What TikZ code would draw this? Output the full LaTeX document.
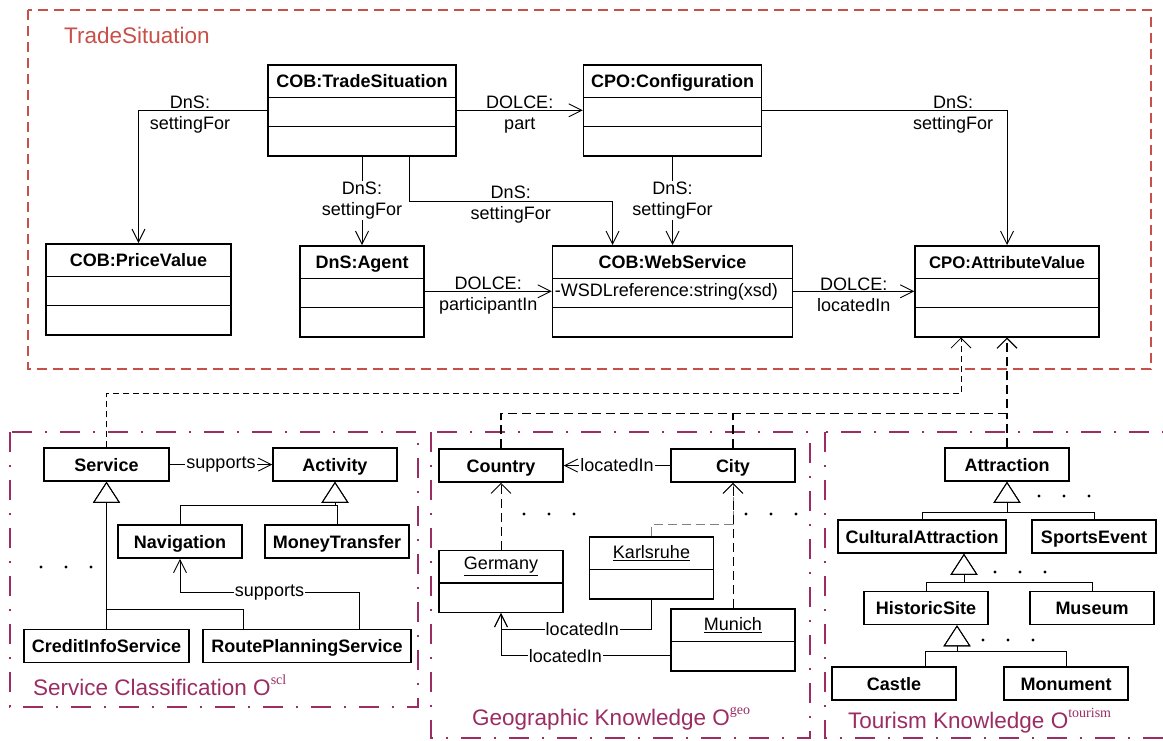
\documentclass[tikz,border=0pt]{standalone}
\usepackage{fontspec}
\setmainfont{Liberation Sans}
\newfontfamily\supfont{Liberation Serif}
\usetikzlibrary{arrows.meta,calc}

\definecolor{tradered}{RGB}{200,80,72}
\definecolor{ontopurple}{RGB}{155,45,100}

\tikzset{
  x=1pt, y=-1pt,
  classbox/.style={draw, line width=1.5pt, inner sep=0pt, fill=white},
  rowline/.style={line width=1.5pt},
  titletext/.style={font=\fontsize{18}{21}\selectfont\bfseries, inner sep=0pt, text height=13pt, text depth=0pt},
  objtext/.style={font=\fontsize{18}{21}\selectfont, inner sep=0pt},
  simplebox/.style={draw, fill=white, line width=1.5pt, minimum height=33pt, inner sep=0pt,
    text height=13pt, text depth=0pt, font=\fontsize{18}{21}\selectfont\bfseries},
  conn/.style={line width=0.9pt},
  assoc/.style={conn, -{Straight Barb[length=13pt,width=13pt]}},
  realize/.style={conn, dash pattern=on 9pt off 5pt, -{Straight Barb[length=10pt,width=20pt]}},
  gen/.style={conn, -{Triangle[open, length=21pt, width=27pt]}},
  lbl/.style={font=\fontsize{18}{21}\selectfont, inner sep=1pt},
  lbltwo/.style={lbl, align=center, yshift=-4pt},
  servlink/.style={line width=0.8pt, dash pattern=on 6pt off 4pt},
  geolink/.style={line width=1.1pt, dash pattern=on 9pt off 5pt},
  tradeframe/.style={tradered, line width=2.5pt, dash pattern=on 10pt off 6pt},
  ontoframe/.style={ontopurple, line width=2.8pt, dash pattern=on 20pt off 13pt on 2pt off 13pt},
  grouplabel/.style={font=\fontsize{22.5}{26}\selectfont, inner sep=0pt, anchor=base west},
  dot/.style={fill=black}
}

% UML class with name, attribute and operation compartments
% #1 node name, #2 centre x, #3 top y, #4 width, #5 title
\newcommand{\umlclass}[5]{%
  \node[classbox, minimum width=#4pt, minimum height=91pt, anchor=north] (#1) at (#2,#3) {};
  \node[titletext] (#1-title) at ($(#1.north)+(0,17)$) {#5};
  \draw[rowline] ($(#1.north west)+(0,33.5)$) -- ($(#1.north east)+(0,33.5)$);
  \draw[rowline] ($(#1.north west)+(0,62.5)$) -- ($(#1.north east)+(0,62.5)$);
}
% UML instance: underlined name and one empty slot compartment
% #1 node name, #2 centre x, #3 top y, #4 name
\newcommand{\umlobject}[4]{%
  \node[classbox, minimum width=124pt, minimum height=62pt, anchor=north] (#1) at (#2,#3) {};
  \node[objtext] (#1-title) at ($(#1.north)+(0,17)$) {\underline{#4}};
  \draw[rowline] ($(#1.north west)+(0,33.5)$) -- ($(#1.north east)+(0,33.5)$);
}

\begin{document}
\begin{tikzpicture}
\clip (0,0) rectangle (1163,740);
\fill[white] (0,0) rectangle (1163,740);

% ---------- frames of the four modules ----------
\draw[tradeframe] (28,10) rectangle (1151,369);
\draw[ontoframe] (10,432) rectangle (418,707);
\draw[ontoframe] (431,432) rectangle (810,738);
\draw[ontoframe] (825,432) rectangle (1185,738);

\node[grouplabel, text=tradered] (tradelabel) at (64,43) {TradeSituation};
\node[grouplabel, text=ontopurple] (scllabel) at (33,695)
  {Service Classification O\raisebox{10.5pt}{\fontsize{14}{14}\supfont scl}};
\node[grouplabel, text=ontopurple] (geolabel) at (472,725)
  {Geographic Knowledge O\raisebox{10.5pt}{\fontsize{14}{14}\supfont geo}};
\node[grouplabel, text=ontopurple] (tourlabel) at (848,728)
  {Tourism Knowledge O\raisebox{10.5pt}{\fontsize{14}{14}\supfont tourism}};

% ---------- trade situation classes ----------
\umlclass{ts}{362}{64}{188}{COB:TradeSituation}
\umlclass{conf}{672.5}{64}{178}{CPO:Configuration}
\umlclass{pv}{138.5}{243}{185}{COB:PriceValue}
\umlclass{agent}{362}{245}{124}{DnS:Agent}
\umlclass{ws}{672.5}{245}{240}{COB:WebService}
\umlclass{av}{1007}{245}{184}{\fontsize{16.8}{20}\selectfont CPO:AttributeValue}
\node[objtext, anchor=west] (ws-attr) at ($(ws.north west)+(3,47)$) {-WSDLreference:string(xsd)};

\draw[assoc] (ts.west) -| node[lbltwo, pos=0.3] {DnS:\\settingFor} (pv.north);
\draw[assoc] (ts.east) -- node[lbltwo] {DOLCE:\\part} (conf.west);
\draw[assoc] (conf.east) -| node[lbltwo, pos=0.39] {DnS:\\settingFor} (av.north);
\draw[assoc] (ts.south) -- node[lbl, align=center, fill=white] {DnS:\\settingFor} (agent.north);
\draw[assoc] ([xshift=47pt]ts.south) |- node[lbltwo, pos=0.75] {DnS:\\settingFor}
  ($(ws.north)+(-60,-44)$) -- ([xshift=-60pt]ws.north);
\draw[assoc] (conf.south) -- node[lbl, align=center, fill=white] {DnS:\\settingFor} (ws.north);
\draw[assoc] (agent.east) -- node[lbltwo] {DOLCE:\\participantIn} (ws.west);
\draw[assoc] (ws.east) -- node[lbltwo] {DOLCE:\\locatedIn} (av.west);

% ---------- service classification ----------
\node[simplebox, minimum width=125pt] (service) at (106.5,464.5) {Service};
\node[simplebox, minimum width=124pt] (activity) at (335,464.5) {Activity};
\node[simplebox, minimum width=124pt] (nav) at (180,541.5) {Navigation};
\node[simplebox, minimum width=144pt] (money) at (337,541.5) {MoneyTransfer};
\node[simplebox, minimum width=165pt] (credit) at (106.5,646) {CreditInfoService};
\node[simplebox, minimum width=208pt] (route) at (307,646) {RoutePlanningService};

\draw[gen] (credit.north) -- (service.south);
\draw[gen] ([xshift=-64pt]route.north) |- ($(service.south)+(0,128)$) -- (service.south);
\draw[gen] (nav.north) |- ($(activity.south)+(0,24)$) -- (activity.south);
\draw[gen] (money.north) |- ($(activity.south)+(0,24)$) -- (activity.south);
\draw[assoc] (service.east) -- node[lbl, fill=white] {supports} (activity.west);
\draw[assoc] ([xshift=52pt]route.north) |- node[lbl, fill=white, pos=0.75] {supports}
  ($(nav.south)+(0,34)$) -- (nav.south);

\foreach \x in {41,66,91} \fill[dot] (\x,567) circle (1.6pt);

% ---------- geographic knowledge ----------
\node[simplebox, minimum width=124pt] (country) at (501,465.5) {Country};
\node[simplebox, minimum width=124pt] (city) at (733,465.5) {City};
\umlobject{germany}{501}{549.5}{Germany}
\umlobject{karlsruhe}{651.5}{536}{Karlsruhe}
\umlobject{munich}{733}{608}{Munich}

\draw[assoc] (city.west) -- node[lbl, fill=white] {locatedIn} (country.east);
\draw[realize] (germany.north) -- (country.south);
\draw[realize, gray] (karlsruhe.north) |- ($(city.south)+(0,42)$) -- (city.south);
\draw[realize] (munich.north) -- (city.south);
\draw[assoc] (karlsruhe.south) |- node[lbl, fill=white, pos=0.73] {locatedIn}
  ($(germany.south)+(0,16)$) -- (germany.south);
\draw[assoc] ([yshift=-16pt]munich.west) -| node[lbl, fill=white, pos=0.31] {locatedIn} (germany.south);

\foreach \x in {524,549,574,746,771,796} \fill[dot] (\x,514) circle (1.6pt);

% ---------- tourism knowledge ----------
\node[simplebox, minimum width=124pt] (attraction) at (1007,464.5) {Attraction};
\node[simplebox, minimum width=168pt] (cultural) at (922,536.5) {CulturalAttraction};
\node[simplebox, minimum width=124pt] (sports) at (1094,536.5) {SportsEvent};
\node[simplebox, minimum width=124pt] (historic) at (926,608) {HistoricSite};
\node[simplebox, minimum width=124pt] (museum) at (1092,608) {Museum};
\node[simplebox, minimum width=124pt] (castle) at (894,683.5) {Castle};
\node[simplebox, minimum width=124pt] (monument) at (1066,683.5) {Monument};

\draw[gen] (cultural.north) |- ($(attraction.south)+(0,31)$) -- (attraction.south);
\draw[gen] (sports.north) |- ($(attraction.south)+(0,31)$) -- (attraction.south);
\draw[gen] (historic.north) |- ($([xshift=42pt]cultural.south)+(0,29)$) -- ([xshift=42pt]cultural.south);
\draw[gen] (museum.north) |- ($([xshift=42pt]cultural.south)+(0,29)$) -- ([xshift=42pt]cultural.south);
\draw[gen] ([xshift=31pt]castle.north) |- ($([xshift=31pt]historic.south)+(0,26)$) -- ([xshift=31pt]historic.south);
\draw[gen] (monument.north) |- ($([xshift=31pt]historic.south)+(0,26)$) -- ([xshift=31pt]historic.south);

\foreach \x in {1039,1064,1089} \fill[dot] (\x,496) circle (1.6pt);
\foreach \x in {995,1020,1045} \fill[dot] (\x,572) circle (1.6pt);
\foreach \x in {983,1008,1033} \fill[dot] (\x,640) circle (1.6pt);

% ---------- links from the domain ontologies to attribute values ----------
\draw[servlink, -{Straight Barb[length=10pt,width=20pt]}] (service.north) |- ($(av.south)+(-46,56)$) -- ([xshift=-46pt]av.south);
\coordinate (geojoin) at ($(av.south)+(0,76)$);
\draw[geolink, -{Straight Barb[length=10pt,width=20pt]}] (country.north) |- (geojoin) -- (av.south);
\draw[geolink] (city.north) -- (city.north |- geojoin);
\draw[geolink] (attraction.north) -- (geojoin);
\end{tikzpicture}
\end{document}
